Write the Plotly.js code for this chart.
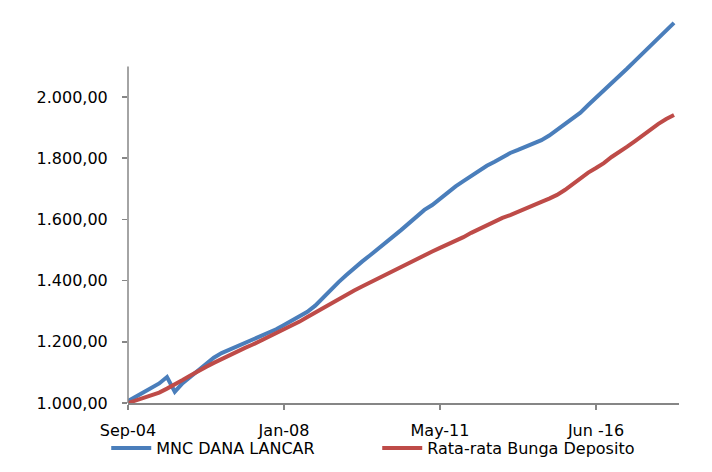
<!DOCTYPE html>
<html>
<head>
<meta charset="utf-8">
<script src="https://cdn.plot.ly/plotly-3.0.1.min.js"></script>
<style>html,body{margin:0;padding:0;background:#fff;}#chart{width:712px;height:472px;}</style>
</head>
<body>
<div id="chart"></div>
<script>
// Observation index (category position along the time axis)
const period = [0,1,2,3,4,5,6,7,8,9,10,11,12,13,14,15,16,17,18,19,20,21,22,23,24,25,26,27,28,29,30,31,32,33,34,35,36,37,38,39,40,41,42,43,44,45,46,47,48,49,50,51,52,53,54,55,56,57,58,59,60,61,62,63,64,65,66,67,68,69,70];

const mncDanaLancar = [1006,1021,1036,1049,1064,1085,1037,1065,1085,1107,1128,1148,1163,1174,1185,1195,1205,1216,1227,1241,1255,1270,1285,1298,1318,1345,1371,1395,1418,1441,1462,1482,1502,1521,1542,1565,1587,1608,1631,1647,1667,1690,1708,1725,1742,1760,1775,1788,1802,1817,1827,1838,1848,1859,1874,1892,1910,1930,1949,1974,1997,2020,2043,2069,2093,2118,2142,2167,2190,2216,2242];

const bungaDeposito = [1000,1008,1016,1025,1034,1047,1060,1075,1090,1105,1118,1131,1144,1157,1168,1180,1191,1203,1216,1227,1239,1252,1266,1281,1296,1310,1325,1340,1355,1368,1381,1394,1407,1420,1433,1446,1459,1472,1484,1495,1507,1518,1529,1542,1556,1569,1582,1595,1605,1614,1624,1636,1645,1657,1668,1680,1696,1716,1737,1753,1768,1784,1804,1820,1838,1856,1876,1894,1912,1928,1941];

const seriesNames = ['MNC DANA LANCAR', 'Rata-rata Bunga Deposito'];
const xTickIndex = [0, 20, 40, 60];
const xTickLabels = ['Sep-04', 'Jan-08', 'May-11', 'Jun -16'];
const yTickValues = [1000, 1200, 1400, 1600, 1800, 2000];
const yAxisMax = 2100;

const font = {family: 'DejaVu Sans, Verdana, sans-serif', size: 16, color: '#000'};
const axisColor = '#868686';

const traces = [
  {x: period, y: mncDanaLancar, name: seriesNames[0], type: 'scatter', mode: 'lines',
   line: {color: '#4A7EBB', width: 4}},
  {x: period, y: bungaDeposito, name: seriesNames[1], type: 'scatter', mode: 'lines',
   line: {color: '#BE4B48', width: 4}}
];

const layout = {
  width: 712, height: 472,
  margin: {l: 128, r: 33, t: 17, b: 69, autoexpand: false},
  paper_bgcolor: '#fff', plot_bgcolor: '#fff',
  font: font,
  separators: ',.',
  showlegend: true,
  legend: {orientation: 'h', x: -0.0395, xanchor: 'left', y: -0.1166, yanchor: 'middle',
    font: font, entrywidth: 216, entrywidthmode: 'pixels', itemwidth: 40,
    bgcolor: 'rgba(0,0,0,0)'},
  xaxis: {range: [0, 70.64], showgrid: false, zeroline: false, showline: true,
    linecolor: axisColor, linewidth: 1.5, ticks: 'outside', ticklen: 5, tickwidth: 1.5,
    tickcolor: axisColor, tickmode: 'array', tickvals: xTickIndex, ticktext: xTickLabels,
    ticklabelstandoff: 7, tickfont: font, fixedrange: true},
  yaxis: {range: [1000, 2261.4], showgrid: false, zeroline: false, showline: false,
    ticks: 'outside', ticklen: 5, tickwidth: 1.5, tickcolor: axisColor,
    tickmode: 'array', tickvals: yTickValues, tickformat: ',.2f',
    ticklabelstandoff: 11, tickfont: font, fixedrange: true},
  shapes: [{type: 'line', xref: 'paper', yref: 'y', x0: 0, x1: 0, y0: yTickValues[0], y1: yAxisMax,
    line: {color: axisColor, width: 1.5}}]
};

Plotly.newPlot('chart', traces, layout, {staticPlot: true, displayModeBar: false});
</script>
</body>
</html>
